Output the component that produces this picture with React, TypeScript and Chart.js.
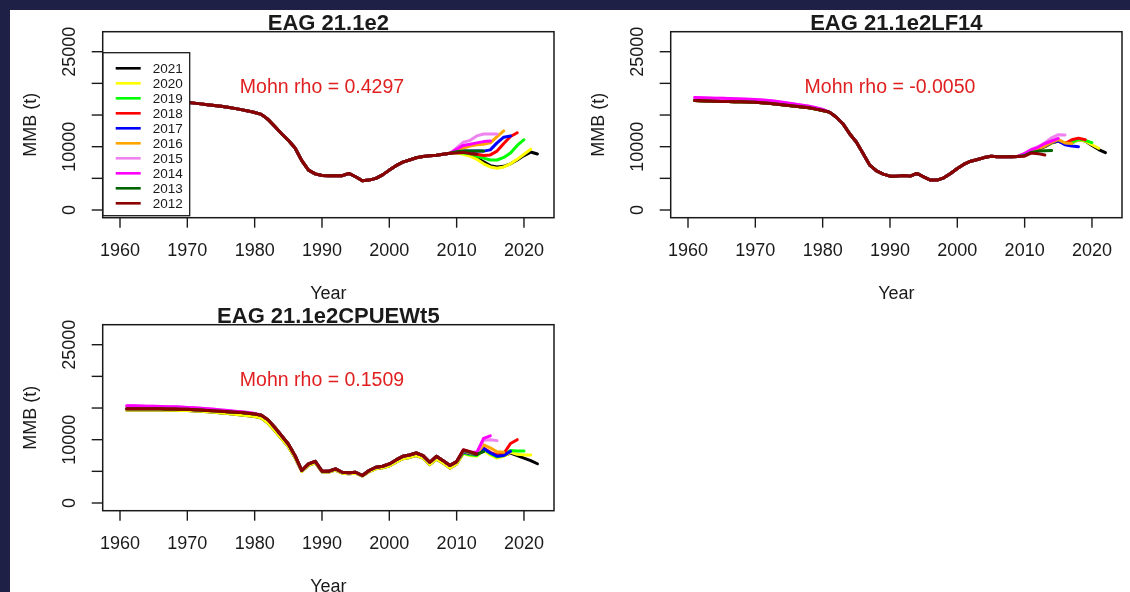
import React, { useEffect, useRef } from "react";
import { Chart, registerables } from "chart.js";

Chart.register(...registerables);

// ---------- data ----------
const FIRST_YEAR = 1961;
const SERIES_LABELS = ["2021", "2020", "2019", "2018", "2017", "2016", "2015", "2014", "2013", "2012"];
const SERIES_COLORS = ["#000000", "#FFFF00", "#00FF00", "#FF0000", "#0000FF", "#FFA500", "#EE82EE", "#FF00FF", "#006400", "#8B0000"];
const X_TICKS = [1960, 1970, 1980, 1990, 2000, 2010, 2020];
const Y_TICKS = [0, 5000, 10000, 15000, 20000, 25000];
const Y_TICK_LABELS = ["0", "", "10000", "", "", "25000"];

const TITLES = ["EAG 21.1e2", "EAG 21.1e2LF14", "EAG 21.1e2CPUEWt5"];
const RHO_TEXTS = ["Mohn rho = 0.4297", "Mohn rho = -0.0050", "Mohn rho = 0.1509"];

// Panel 1: EAG 21.1e2  (base 1961-2009, peels from 2010)
const P1_BASE = [
  17450, 17400, 17350, 17300, 17250, 17200, 17150, 17100, 17050, 17000,
  16880, 16760, 16640, 16520, 16400, 16230, 16050, 15850, 15650, 15400,
  15100, 14300, 13200, 12050, 11000, 9800, 7800, 6300, 5700, 5450,
  5400, 5400, 5420, 5770, 5250, 4620, 4720, 5000, 5550, 6300,
  7000, 7550, 7900, 8250, 8450, 8550, 8650, 8800, 8950,
];
const P1_TAIL_START = 2010;
const P1_T2021 = [9100, 9000, 8700, 8200, 7600, 7000, 6800, 6900, 7300, 7900, 8600, 9150, 8850];
const P1_T2020 = [9050, 8800, 8500, 8000, 7300, 6800, 6600, 6800, 7300, 8000, 8800, 9600];
const P1_T2019 = [9150, 9000, 8900, 8500, 8200, 7900, 7900, 8300, 9000, 10200, 11100];
const P1_T2018 = [9200, 9200, 9000, 8800, 8600, 8700, 9300, 10500, 11600, 12200];
const P1_T2017 = [9300, 9300, 9300, 9300, 9300, 9500, 10600, 11500, 11700];
const P1_T2016 = [9400, 9800, 10100, 10300, 10400, 10600, 11600, 12500];
const P1_T2015 = [9800, 10700, 11000, 11700, 12000, 12000, 12000];
const P1_T2014 = [9600, 10200, 10400, 10600, 10800, 10900];
const P1_T2013 = [9200, 9300, 9300, 9300, 9300];
const P1_T2012 = [9000, 9100, 8900, 8800];

// Panel 2: EAG 21.1e2LF14
const P2_BASE = [
  17300, 17250, 17200, 17170, 17140, 17120, 17100, 17080, 17050, 17030,
  16950, 16850, 16750, 16630, 16510, 16400, 16270, 16140, 15930, 15720,
  15460, 14680, 13630, 12050, 10740, 8910, 7080, 6180, 5660, 5350,
  5350, 5450, 5350, 5770, 5240, 4720, 4720, 5080, 5770, 6550,
  7230, 7700, 7970, 8280, 8490, 8400, 8400, 8400, 8450,
];
const P2_EARLY_HIGH = [
  17750, 17720, 17690, 17660, 17630, 17600, 17570, 17540, 17500, 17460,
  17380, 17280, 17160, 17030, 16880, 16720, 16550, 16380, 16150, 15880,
];
const P2_TAIL_START = 2010;
const P2_T2021 = [8800, 9300, 9600, 10000, 10600, 10900, 10500, 10600, 11100, 10900, 10200, 9550, 9050];
const P2_T2020 = [8750, 9250, 9550, 9950, 10550, 10900, 10500, 10600, 11100, 10900, 10300, 9750];
const P2_T2019 = [8800, 9300, 9600, 10000, 10600, 10900, 10500, 10700, 11200, 11000, 10650];
const P2_T2018 = [8850, 9350, 9650, 10050, 10650, 10900, 10500, 11100, 11350, 11100];
const P2_T2017 = [8850, 9350, 9650, 10050, 10650, 10900, 10300, 10100, 10000];
const P2_T2016 = [8900, 9400, 9700, 10100, 10700, 11100, 10600, 10500];
const P2_T2015 = [8950, 9600, 10000, 10600, 11400, 11900, 11850];
const P2_T2014 = [8900, 9500, 9900, 10500, 10900, 11300];
const P2_T2013 = [8600, 9100, 9300, 9350, 9400];
const P2_T2012 = [8500, 9000, 8900, 8700];

// Panel 3: EAG 21.1e2CPUEWt5 (base 1961-2010, peels from 2011)
const P3_BASE = [
  14900, 14900, 14900, 14900, 14900, 14880, 14860, 14840, 14820, 14800,
  14740, 14680, 14620, 14550, 14490, 14420, 14350, 14280, 14180, 14070,
  13860, 13130, 11920, 10620, 9310, 7480, 5130, 6170, 6590, 5020,
  5020, 5390, 4860, 4760, 4860, 4340, 5130, 5650, 5810, 6170,
  6800, 7370, 7580, 7900, 7480, 6430, 7370, 6690, 5910, 6540,
];
const P3_BASE_RECENT = [
  14700, 14700, 14700, 14700, 14700, 14680, 14660, 14640, 14620, 14600,
  14540, 14480, 14400, 14320, 14230, 14130, 14020, 13900, 13780, 13650,
  13400, 12600, 11400, 10150, 8900, 7150, 5000, 5950, 6350, 4900,
  4900, 5200, 4700, 4600, 4700, 4250, 4950, 5400, 5550, 5850,
  6450, 7000, 7200, 7500, 7100, 6050, 6950, 6300, 5500, 6150,
];
const P3_EARLY_HIGH = [
  15350, 15350, 15330, 15300, 15280, 15250, 15220, 15190, 15150, 15100,
  15030, 14960, 14880, 14800, 14700, 14600, 14500, 14400, 14280, 14150,
];
const P3_TAIL_START = 2011;
const P3_T2021 = [7900, 7600, 7500, 8500, 7800, 7400, 7500, 7900, 7500, 7100, 6700, 6200];
const P3_T2020 = [7800, 7500, 7400, 8300, 7600, 7100, 7400, 8000, 7700, 7600, 7600];
const P3_T2019 = [7900, 7600, 7500, 8500, 7800, 7300, 7500, 8300, 8200, 8200];
const P3_T2018 = [8100, 7800, 7700, 8700, 8000, 7600, 7800, 9400, 10000];
const P3_T2017 = [8100, 7800, 7700, 8600, 7900, 7400, 7500, 8150];
const P3_T2016 = [8200, 7900, 7800, 9200, 8700, 8100, 8000];
const P3_T2015 = [8300, 8000, 7900, 9900, 10000, 9850];
const P3_T2014 = [8350, 8050, 8000, 10200, 10600];
const P3_T2013 = [8300, 8000, 7700, 8100];
const P3_T2012 = [8420, 8110, 7740];

// ---------- building ----------
type Pt = { x: number; y: number };
function buildPoints(base: number[], tail: number[], tailStart: number, early: number[] = []): Pt[] {
  const pts: Pt[] = [];
  for (let i = 0; i < tailStart - FIRST_YEAR; i++) {
    pts.push({ x: FIRST_YEAR + i, y: i < early.length ? early[i] : base[i] });
  }
  tail.forEach((v, i) => pts.push({ x: tailStart + i, y: v }));
  return pts;
}

const PANEL_SERIES: Pt[][][] = [
  [P1_T2021, P1_T2020, P1_T2019, P1_T2018, P1_T2017, P1_T2016, P1_T2015, P1_T2014, P1_T2013, P1_T2012].map((t) =>
    buildPoints(P1_BASE, t, P1_TAIL_START)
  ),
  [P2_T2021, P2_T2020, P2_T2019, P2_T2018, P2_T2017, P2_T2016, P2_T2015, P2_T2014, P2_T2013, P2_T2012].map((t, i) =>
    buildPoints(P2_BASE, t, P2_TAIL_START, i === 6 || i === 7 ? P2_EARLY_HIGH : [])
  ),
  [P3_T2021, P3_T2020, P3_T2019, P3_T2018, P3_T2017, P3_T2016, P3_T2015, P3_T2014, P3_T2013, P3_T2012].map((t, i) =>
    buildPoints(i <= 1 ? P3_BASE_RECENT : P3_BASE, t, P3_TAIL_START, i === 6 || i === 7 ? P3_EARLY_HIGH : [])
  ),
];

// ---------- layout / style ----------
const FONT = '"Liberation Sans", Arial, Helvetica, sans-serif';
const BG = "#1e2046";
const INK = "#1a1a1a";
const CANVAS_W = 568;
const CANVAS_H = 293;
const PANEL_POS = [
  { left: 10, top: 10 },
  { left: 578, top: 10 },
  { left: 10, top: 303 },
];

const rPlot = {
  id: "rPlot",
  afterDatasetsDraw(chart: any) {
    const o = chart.options.plugins.rPlot;
    if (!o) return;
    const { ctx, chartArea: a, scales } = chart;
    const xs = scales.x;
    const ys = scales.y;
    ctx.save();

    // legend
    if (o.legend) {
      const lx = a.left;
      const ly = ys.getPixelForValue(25000) + 1;
      const lw = 87;
      const lh = 163;
      ctx.fillStyle = "#ffffff";
      ctx.fillRect(lx, ly, lw, lh);
      ctx.strokeStyle = INK;
      ctx.lineWidth = 1.3;
      ctx.strokeRect(lx, ly, lw, lh);
      ctx.font = `13.5px ${FONT}`;
      ctx.textAlign = "left";
      ctx.textBaseline = "middle";
      SERIES_LABELS.forEach((lab, i) => {
        const yy = ly + 15.6 + i * 15;
        ctx.strokeStyle = SERIES_COLORS[i];
        ctx.lineWidth = 2.6;
        ctx.beginPath();
        ctx.moveTo(lx + 13, yy);
        ctx.lineTo(lx + 38, yy);
        ctx.stroke();
        ctx.fillStyle = INK;
        ctx.fillText(lab, lx + 50, yy + 0.5);
      });
    }

    // box
    ctx.strokeStyle = INK;
    ctx.lineWidth = 1.5;
    ctx.strokeRect(a.left, a.top, a.right - a.left, a.bottom - a.top);

    // x axis
    ctx.lineWidth = 1.4;
    ctx.fillStyle = INK;
    ctx.font = `18px ${FONT}`;
    ctx.textAlign = "center";
    ctx.textBaseline = "middle";
    X_TICKS.forEach((t) => {
      const px = xs.getPixelForValue(t);
      ctx.beginPath();
      ctx.moveTo(px, a.bottom);
      ctx.lineTo(px, a.bottom + 10);
      ctx.stroke();
      ctx.fillText(String(t), px, a.bottom + 33);
    });
    ctx.fillText("Year", (a.left + a.right) / 2, a.bottom + 76);

    // y axis
    Y_TICKS.forEach((t, i) => {
      const py = ys.getPixelForValue(t);
      ctx.beginPath();
      ctx.moveTo(a.left - 11, py);
      ctx.lineTo(a.left, py);
      ctx.stroke();
      if (Y_TICK_LABELS[i]) {
        ctx.save();
        ctx.translate(a.left - 33, py);
        ctx.rotate(-Math.PI / 2);
        ctx.fillText(Y_TICK_LABELS[i], 0, 0);
        ctx.restore();
      }
    });
    ctx.save();
    ctx.translate(a.left - 72, (a.top + a.bottom) / 2);
    ctx.rotate(-Math.PI / 2);
    ctx.fillText("MMB (t)", 0, 0);
    ctx.restore();

    // title
    ctx.font = `bold 22px ${FONT}`;
    ctx.textBaseline = "alphabetic";
    ctx.fillText(o.title, (a.left + a.right) / 2, a.top - 2);

    // Mohn rho
    ctx.font = `19.5px ${FONT}`;
    ctx.fillStyle = "#e02020";
    ctx.textBaseline = "middle";
    ctx.fillText(o.rho, xs.getPixelForValue(1990), ys.getPixelForValue(19400));

    ctx.restore();
  },
};

function Panel({ index }: { index: number }) {
  const ref = useRef<HTMLCanvasElement>(null);
  useEffect(() => {
    if (!ref.current) return;
    const series = PANEL_SERIES[index];
    const chart = new Chart(ref.current, {
      type: "line",
      data: {
        datasets: series.map((pts, i) => ({
          label: SERIES_LABELS[i],
          data: pts,
          borderColor: SERIES_COLORS[i],
          backgroundColor: SERIES_COLORS[i],
          borderWidth: 3,
          pointRadius: 0,
          tension: 0,
          fill: false,
          borderCapStyle: "round",
          borderJoinStyle: "round",
          order: series.length - 1 - i,
        })),
      },
      options: {
        animation: false,
        responsive: false,
        maintainAspectRatio: false,
        events: [],
        layout: { padding: { left: 92.7, top: 21.7, right: 24, bottom: 85.3 } },
        scales: {
          x: { type: "linear", min: 1957.43, max: 2024.46, display: false },
          y: { type: "linear", min: -1216, max: 28160, display: false },
        },
        plugins: {
          legend: { display: false },
          tooltip: { enabled: false },
          rPlot: { title: TITLES[index], rho: RHO_TEXTS[index], legend: index === 0 },
        } as any,
      },
      plugins: [rPlot],
    } as any);
    return () => chart.destroy();
  }, [index]);
  const pos = PANEL_POS[index];
  return (
    <canvas
      ref={ref}
      width={CANVAS_W}
      height={CANVAS_H}
      style={{ position: "absolute", left: pos.left, top: pos.top, width: CANVAS_W, height: CANVAS_H }}
    />
  );
}

export default function App() {
  return (
    <div
      style={{
        position: "fixed",
        left: 0,
        top: 0,
        width: 1130,
        height: 592,
        background: BG,
        overflow: "hidden",
      }}
    >
      <div style={{ position: "absolute", left: 10, top: 10, right: 0, bottom: 0, background: "#ffffff" }} />
      <Panel index={0} />
      <Panel index={1} />
      <Panel index={2} />
    </div>
  );
}
